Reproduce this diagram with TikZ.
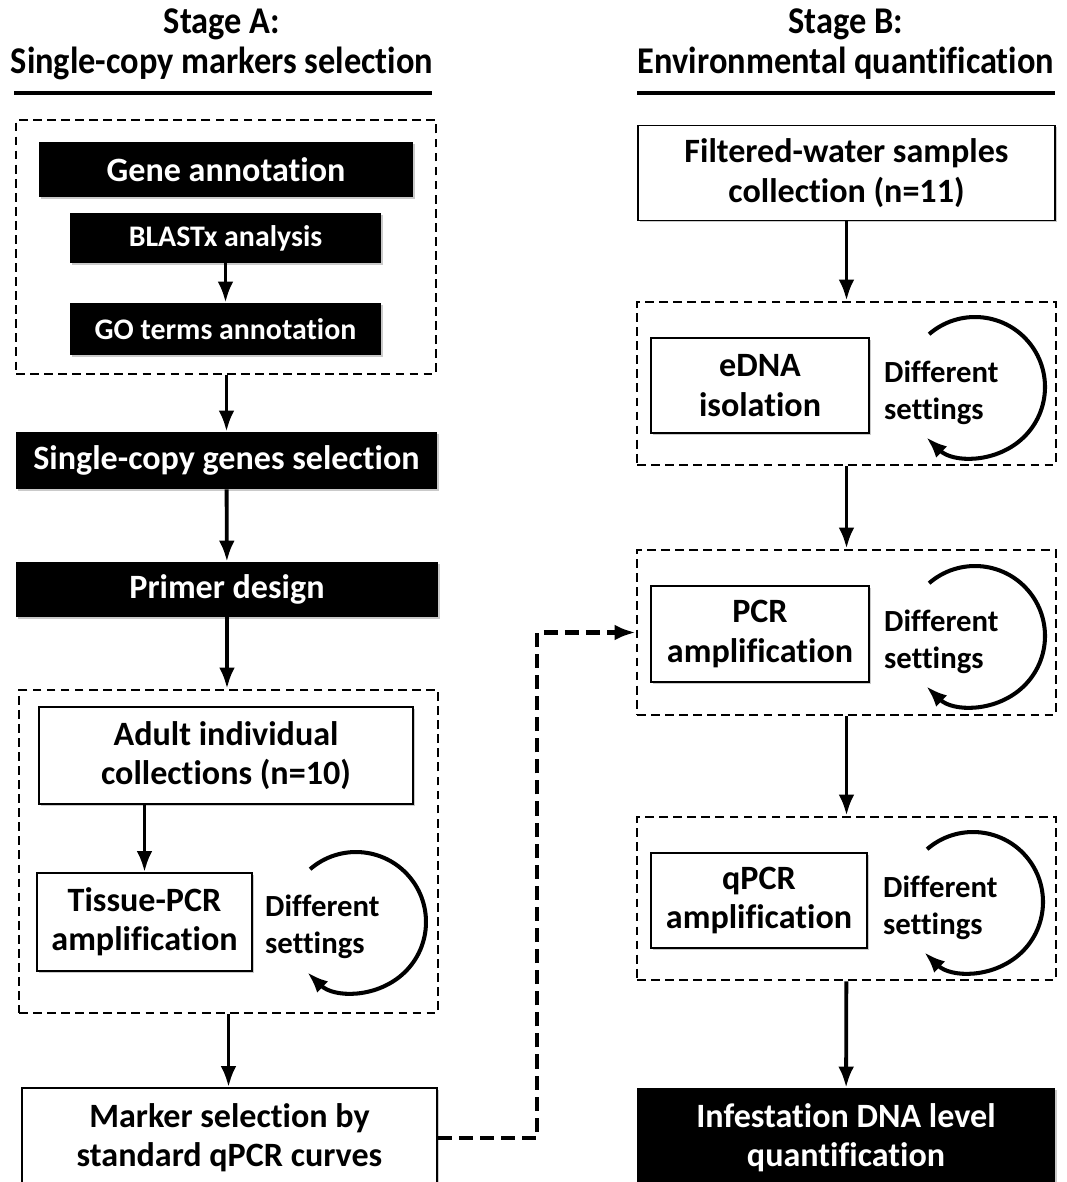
\documentclass[tikz,border=0pt]{standalone}
\usepackage{fontspec}
\setmainfont{Carlito}[Ligatures=CommonOff]
\newfontfamily\hdrfont{Carlito}[FakeStretch=0.91, Ligatures=CommonOff]
\usepackage{tikz}
\usetikzlibrary{arrows.meta, positioning, calc, shadows}

\begin{document}
\begin{tikzpicture}[x=0.02cm, y=-0.02cm, font=\bfseries,
    >={Latex[length=12pt,width=9pt]},
    lightbox/.style={draw, line width=1pt, fill=white, align=center, inner sep=0pt,
        font=\bfseries\fontsize{19.4}{22.4}\selectfont,
        drop shadow={shadow xshift=1pt, shadow yshift=-1pt, fill=black!35, opacity=0.6}},
    darkbox/.style={fill=black, text=white, align=center, inner sep=0pt,
        font=\bfseries\fontsize{19.4}{22.4}\selectfont,
        drop shadow={shadow xshift=1pt, shadow yshift=-1pt, fill=black!35, opacity=0.6}},
    group/.style={draw, line width=1.6pt, dash pattern=on 5pt off 3pt, inner sep=0pt},
    note/.style={align=left, anchor=west, font=\bfseries\fontsize{17.5}{21}\selectfont},
    hdr/.style={align=center, font=\hdrfont\bfseries\fontsize{21.5}{22.7}\selectfont},
    arr/.style={->, line width=2.2pt},
    cycarrow/.style={->, line width=2.3pt},
    dasharr/.style={->, line width=2.4pt, dash pattern=on 8pt off 4pt}
]
    \useasboundingbox (0,0) rectangle (1066,1182);

    % headings
    \node[hdr] (ha) at (222,44) {Stage A:\\Single-copy markers selection};
    \node[hdr] (hb) at (846,44) {Stage B:\\Environmental quantification};
    \draw[line width=2.8pt] (14,93) -- (432,93);
    \draw[line width=2.8pt] (637,93) -- (1055,93);

    % stage A
    \node[group, minimum width=8.4cm, minimum height=5.08cm] (grpa) at (226,247) {};
    \node[darkbox, minimum width=7.48cm, minimum height=1.1cm] (gene) at (226,169.5) {Gene annotation};
    \node[darkbox, minimum width=6.22cm, minimum height=1cm, font=\bfseries\fontsize{17}{20}\selectfont] (blast) at (225.5,238) {BLASTx analysis};
    \node[darkbox, minimum width=6.22cm, minimum height=1.04cm, font=\bfseries\fontsize{17}{20}\selectfont] (goterm) at (225.5,329) {GO terms annotation};
    \node[darkbox, minimum width=8.42cm, minimum height=1.14cm] (single) at (226.5,460.5) {Single-copy genes selection};
    \node[darkbox, minimum width=8.44cm, minimum height=1.1cm] (primer) at (227,589.5) {Primer design};
    \node[group, minimum width=8.38cm, minimum height=6.46cm] (grpb) at (228.5,851.5) {};
    \node[lightbox, minimum width=7.48cm, minimum height=1.94cm] (adult) at (226,755.5) {Adult individual\\collections (n=10)};
    \node[lightbox, minimum width=4.3cm, minimum height=1.96cm] (tissue) at (144.5,922) {Tissue-PCR\\amplification};
    \node[note] (diffa) at (259,927) {Different\\settings};
    \coordinate (cyca) at (356,922);
    \node[lightbox, minimum width=8.3cm, minimum height=2cm] (marker) at (229.5,1138) {Marker selection by\\standard qPCR curves};

    \draw[arr] (blast) -- (goterm);
    \draw[arr] (grpa.south -| single) -- (single);
    \draw[arr] (single) -- (primer);
    \draw[arr] (primer.south) -- (grpb.north -| primer.south);
    \draw[arr] (adult.south -| tissue) -- (tissue);
    \draw[arr] (grpb.south) -- (marker.north -| grpb.south);
    \draw[cycarrow] ([shift={(131:1.4cm)}]cyca) arc[start angle=131, end angle=-134, radius=1.4cm];

    % stage B
    \node[lightbox, minimum width=8.34cm, minimum height=1.9cm] (water) at (846.5,173) {Filtered-water samples\\collection (n=11)};
    \node[group, minimum width=8.38cm, minimum height=3.26cm] (grpc) at (846.5,383.5) {};
    \node[lightbox, minimum width=4.36cm, minimum height=1.9cm] (edna) at (760,385.5) {eDNA\\isolation};
    \node[note] (diffb) at (878,393) {Different\\settings};
    \coordinate (cycb) at (975,387);
    \node[group, minimum width=8.38cm, minimum height=3.3cm] (grpd) at (846.5,632.5) {};
    \node[lightbox, minimum width=4.36cm, minimum height=1.92cm] (pcr) at (760,634) {PCR\\amplification};
    \node[note] (diffc) at (878,642) {Different\\settings};
    \coordinate (cycc) at (975,636);
    \node[group, minimum width=8.38cm, minimum height=3.26cm] (grpe) at (846.5,898.5) {};
    \node[lightbox, minimum width=4.32cm, minimum height=1.9cm] (qpcr) at (759,900.5) {qPCR\\amplification};
    \node[note] (diffd) at (877,908) {Different\\settings};
    \coordinate (cycd) at (973,902);
    \node[darkbox, minimum width=8.36cm, minimum height=2cm] (infest) at (846,1138) {Infestation DNA level\\quantification};

    \draw[arr] (water) -- (grpc);
    \draw[arr] (grpc) -- (grpd);
    \draw[arr] (grpd) -- (grpe);
    \draw[arr] (grpe) -- (infest);
    \foreach \c in {cycb, cycc, cycd}
        \draw[cycarrow] ([shift={(131:1.4cm)}]\c) arc[start angle=131, end angle=-134, radius=1.4cm];

    % link between stages
    \coordinate (jog) at (537,0);
    \draw[dasharr] (marker.east) -- (marker.east -| jog) |- (grpd.west);
\end{tikzpicture}
\end{document}
